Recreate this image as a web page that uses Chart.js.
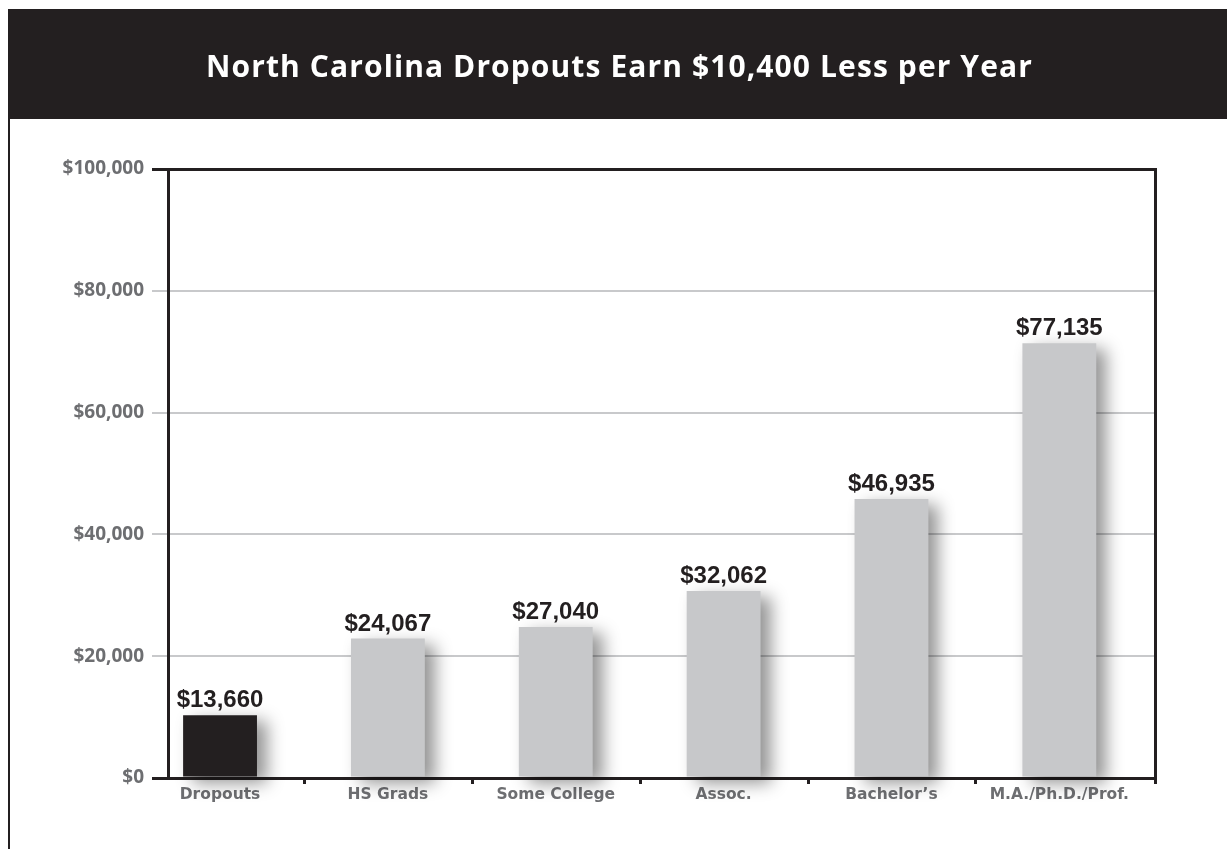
<!DOCTYPE html>
<html>
<head>
<meta charset="utf-8">
<title>North Carolina Dropouts Earn $10,400 Less per Year</title>
<script src="https://cdn.jsdelivr.net/npm/chart.js@4.4.1/dist/chart.umd.min.js"></script>
<style>
  html, body { margin: 0; padding: 0; background: #fff; }
  #wrap { position: relative; width: 1227px; height: 849px; }
</style>
</head>
<body>
<div id="wrap"><canvas id="earnings-chart"></canvas></div>
<script>
const chartTitle = 'North Carolina Dropouts Earn $10,400 Less per Year';
const categories = ['Dropouts', 'HS Grads', 'Some College', 'Assoc.', 'Bachelor\u2019s', 'M.A./Ph.D./Prof.'];
// yearly earnings printed above each bar
const earnings = [13660, 24067, 27040, 32062, 46935, 77135];
// bar heights as drawn in the source graphic (they don't follow the printed figures exactly)
const barHeights = [10300, 22900, 24800, 30700, 45800, 71400];
const yTicks = [0, 20000, 40000, 60000, 80000, 100000];

const colors = {
    ink: '#231f20',
    bar: '#c7c8ca',
    grid: '#c8c9cb',
    label: '#6d6e71'
};

function money(v) {
    return '$' + v.toLocaleString('en-US');
}

// black header band, title and the thin frame line on the left
const framePlugin = {
    id: 'frame',
    beforeDraw(chart) {
        const ctx = chart.ctx;
        ctx.save();
        ctx.fillStyle = colors.ink;
        ctx.fillRect(8, 9, chart.width - 8, 110);
        ctx.fillRect(8, 119, 2, chart.height - 119);
        ctx.fillStyle = '#fff';
        ctx.font = 'bold 30px "Open Sans"';
        ctx.letterSpacing = '1.1px';
        ctx.textAlign = 'center';
        ctx.textBaseline = 'alphabetic';
        ctx.fillText(chartTitle, (8 + chart.width) / 2 + 2, 77);
        ctx.restore();
    }
};

// drop shadow under the bars, value labels, and tick marks between categories
const barDecor = {
    id: 'barDecor',
    beforeDatasetsDraw(chart) {
        const ctx = chart.ctx;
        ctx.save();
        ctx.shadowColor = 'rgba(0, 0, 0, 0.42)';
        ctx.shadowBlur = 16;
        ctx.shadowOffsetX = 10;
        ctx.shadowOffsetY = 6;
    },
    afterDatasetsDraw(chart) {
        const ctx = chart.ctx;
        ctx.restore();

        const meta = chart.getDatasetMeta(0);
        ctx.save();
        ctx.font = 'bold 24px "Liberation Sans", Arial, sans-serif';
        ctx.fillStyle = colors.ink;
        ctx.textAlign = 'center';
        ctx.textBaseline = 'alphabetic';
        meta.data.forEach((bar, i) => {
            ctx.fillText(money(earnings[i]), bar.x, bar.y - 8);
        });

        const xScale = chart.scales.x;
        const bottom = chart.chartArea.bottom;
        ctx.strokeStyle = colors.ink;
        ctx.lineWidth = 3;
        ctx.beginPath();
        categories.forEach((c, i) => {
            const px = i < categories.length - 1 ? xScale.getPixelForValue(i + 0.5) : chart.chartArea.right;
            ctx.moveTo(Math.round(px) + 0.5, bottom);
            ctx.lineTo(Math.round(px) + 0.5, bottom + 6);
        });
        ctx.stroke();
        ctx.restore();
    }
};

function isFrameLine(c) {
    return c.tick && (c.tick.value === yTicks[0] || c.tick.value === yTicks[yTicks.length - 1]);
}

const ctx = document.getElementById('earnings-chart').getContext('2d');
new Chart(ctx, {
    type: 'bar',
    data: {
        datasets: [{
            data: barHeights.map((v, i) => ({ x: i, y: v })),
            backgroundColor: c => c.dataIndex === 0 ? colors.ink : colors.bar,
            borderWidth: 0,
            barPercentage: 0.44,
            categoryPercentage: 1,
            clip: false
        }]
    },
    options: {
        responsive: true,
        maintainAspectRatio: false,
        animation: false,
        layout: {
            padding: { top: 169, left: 12, right: 0, bottom: 0 }
        },
        plugins: {
            legend: { display: false },
            tooltip: { enabled: false },
            title: { display: false }
        },
        scales: {
            x: {
                type: 'linear',
                min: -0.31,
                max: 5.57,
                offset: false,
                z: 1,
                afterBuildTicks: s => { s.ticks = categories.map((c, i) => ({ value: i })); },
                afterFit: s => { s.height = 71; },
                grid: { display: false, drawTicks: false, offset: false },
                border: { color: colors.ink, width: 3 },
                ticks: {
                    callback: v => categories[v],
                    autoSkip: false,
                    maxRotation: 0,
                    padding: 8,
                    color: colors.label,
                    font: { family: '"DejaVu Sans"', weight: 'bold', size: 15.5 }
                }
            },
            y: {
                type: 'linear',
                min: yTicks[0],
                max: yTicks[yTicks.length - 1],
                afterBuildTicks: s => { s.ticks = yTicks.map(v => ({ value: v })); },
                afterFit: s => { s.width = 156; },
                grid: {
                    color: c => isFrameLine(c) ? colors.ink : colors.grid,
                    lineWidth: c => isFrameLine(c) ? 3 : 2,
                    tickLength: 16
                },
                border: { color: colors.ink, width: 3 },
                ticks: {
                    callback: v => money(v),
                    padding: 8,
                    color: colors.label,
                    font: { family: '"Open Sans"', weight: 'bold', size: 19 }
                }
            },
            yRight: {
                type: 'linear',
                position: 'right',
                min: 0,
                max: 1,
                afterFit: s => { s.width = 72; },
                grid: { display: false, drawTicks: false },
                border: { color: colors.ink, width: 3 },
                ticks: { display: false }
            }
        }
    },
    plugins: [framePlugin, barDecor]
});
</script>
</body>
</html>
